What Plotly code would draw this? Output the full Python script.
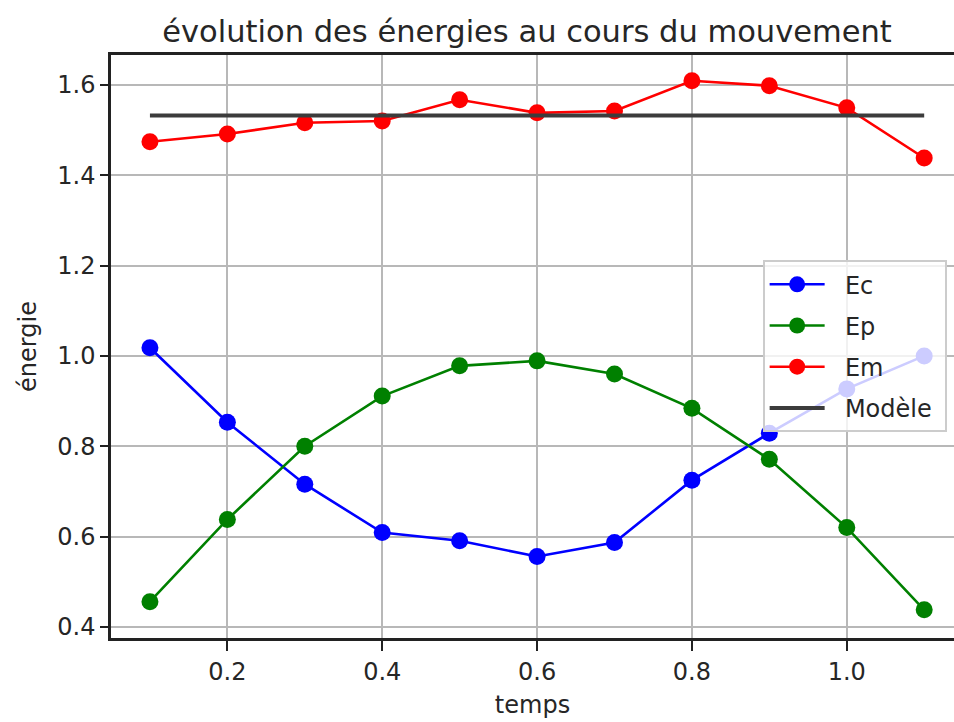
import plotly.graph_objects as go

temps = [0.1, 0.2, 0.3, 0.4, 0.5, 0.6, 0.7, 0.8, 0.9, 1.0, 1.1]
Ec = [1.018, 0.853, 0.716, 0.609, 0.591, 0.556, 0.587, 0.725, 0.829, 0.927, 1.0]
Ep = [0.456, 0.638, 0.800, 0.911, 0.978, 0.989, 0.960, 0.884, 0.771, 0.620, 0.438]
Em = [1.474, 1.491, 1.516, 1.520, 1.567, 1.538, 1.542, 1.609, 1.598, 1.549, 1.438]
modele_x = [0.1, 1.1]
modele_y = [1.532, 1.532]

x_ticks = [0.2, 0.4, 0.6, 0.8, 1.0]
y_ticks = [0.4, 0.6, 0.8, 1.0, 1.2, 1.4, 1.6]

FONT = "DejaVu Sans"
TXT = "#262626"
PAD = "\u00a0\u00a0"

fig = go.Figure()
for name, y, col in [("Ec", Ec, "#0000ff"), ("Ep", Ep, "#008000"), ("Em", Em, "#ff0000")]:
    fig.add_trace(go.Scatter(x=temps, y=y, name=PAD + name, mode="lines+markers", legendgroup=name,
                             line=dict(color=col, width=2.6),
                             marker=dict(color=col, size=17)))
fig.add_trace(go.Scatter(x=modele_x, y=modele_y, name=PAD + "Modèle\u00a0", mode="lines", legendgroup="Modele",
                         line=dict(color="#3c3c3c", width=4)))

fig.update_layout(
    width=954, height=722,
    margin=dict(l=111, r=0, t=55, b=84, autoexpand=False),
    paper_bgcolor="white", plot_bgcolor="white",
    font=dict(family=FONT, size=24, color=TXT),
    title=dict(text="évolution des énergies au cours du mouvement",
               x=0.4935, xref="paper", xanchor="center",
               y=0.972, yref="container", yanchor="top",
               font=dict(family=FONT, size=30.5, color=TXT)),
    legend=dict(x=0.773, y=0.648, xanchor="left", yanchor="top",
                bgcolor="rgba(255,255,255,0.8)", bordercolor="#cccccc", borderwidth=2,
                font=dict(family=FONT, size=24, color=TXT),
                itemwidth=55, tracegroupgap=7),
    showlegend=True,
)
fig.update_xaxes(range=[0.0497, 1.1385], tickvals=x_ticks, ticktext=[f"{v:.1f}" for v in x_ticks],
                 automargin=False,
                 showgrid=True, gridcolor="#b8b8b8", gridwidth=2.2,
                 showline=True, linecolor="#222222", linewidth=2.5, mirror=True,
                 ticks="outside", ticklen=10, tickwidth=2.2, tickcolor="#222222",
                 zeroline=False,
                 title=dict(text="temps", standoff=12, font=dict(family=FONT, size=24, color=TXT)))
fig.update_yaxes(range=[0.3756, 1.666], tickvals=y_ticks, ticktext=[f"{v:.1f}" for v in y_ticks],
                 automargin=False, ticklabelstandoff=0,
                 showgrid=True, gridcolor="#b8b8b8", gridwidth=2.2,
                 showline=True, linecolor="#222222", linewidth=2.5, mirror=False,
                 ticks="outside", ticklen=8, tickwidth=2.2, tickcolor="#222222",
                 zeroline=False,
                 title=dict(text="énergie", standoff=14, font=dict(family=FONT, size=24, color=TXT)))

fig.write_html("out.html", config={"displayModeBar": False},
               post_script="document.body.style.margin='0';document.body.style.overflow='hidden';")
